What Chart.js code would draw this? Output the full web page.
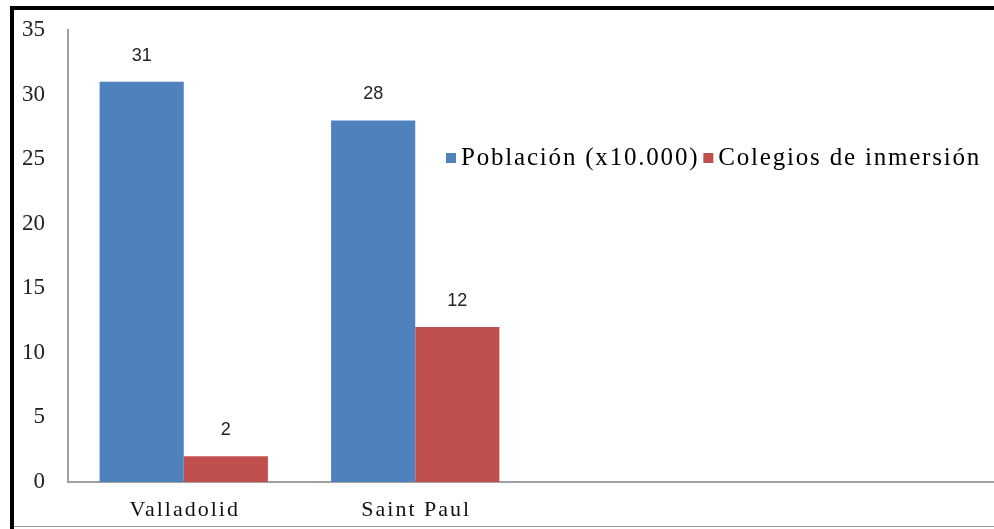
<!DOCTYPE html>
<html>
<head>
<meta charset="utf-8">
<script src="https://cdn.jsdelivr.net/npm/chart.js@4.4.0/dist/chart.umd.min.js"></script>
<style>
  html, body { margin: 0; padding: 0; background: #fff; }
  #wrap { position: relative; width: 994px; height: 529px; overflow: hidden; }
  #frameTop { position: absolute; left: 10px; top: 6px; width: 984px; height: 4px; background: #000; }
  #frameLeft { position: absolute; left: 10px; top: 6px; width: 4px; height: 523px; background: #000; }
  #frameBottom { position: absolute; left: 14px; top: 526px; width: 980px; height: 1px; background: #999; }
  canvas { position: absolute; left: 0; top: 0; }
</style>
</head>
<body>
<div id="wrap">
  <canvas id="chart" width="994" height="529"></canvas>
  <div id="frameTop"></div>
  <div id="frameLeft"></div>
  <div id="frameBottom"></div>
</div>
<script>
// --- data ---
var categories = ['Valladolid', 'Saint Paul', '', ''];
var poblacion = [31, 28, null, null];
var colegios = [2, 12, null, null];
var seriesNames = ['Población (x10.000)', 'Colegios de inmersión'];
var seriesColors = ['#4f81bd', '#c0504d'];
var yTicks = [0, 5, 10, 15, 20, 25, 30, 35];

var SERIF = '"Liberation Serif", "Times New Roman", serif';

// value labels above bars
var valueLabels = {
  id: 'valueLabels',
  afterDatasetsDraw: function(chart) {
    var ctx = chart.ctx;
    ctx.save();
    ctx.font = '18px "Liberation Sans", Arial, sans-serif';
    ctx.fillStyle = '#222';
    ctx.textAlign = 'center';
    ctx.textBaseline = 'middle';
    chart.data.datasets.forEach(function(ds, di) {
      chart.getDatasetMeta(di).data.forEach(function(bar, i) {
        if (ds.data[i] == null) return;
        ctx.fillText(String(ds.data[i]), bar.x, bar.y - 26);
      });
    });
    ctx.restore();
  }
};

// category labels, spaced out like the original (Chart.js ticks can't letter-space)
var catLabels = {
  id: 'catLabels',
  afterDraw: function(chart) {
    var ctx = chart.ctx, xs = chart.scales.x;
    ctx.save();
    ctx.font = '22px ' + SERIF;
    ctx.letterSpacing = '2px';
    ctx.fillStyle = '#111';
    ctx.textAlign = 'center';
    ctx.textBaseline = 'middle';
    categories.forEach(function(c, i) {
      if (!c) return;
      ctx.fillText(c, xs.getPixelForValue(i) + 1, xs.top + 28);
    });
    ctx.restore();
  }
};

// legend drawn inside plot area, like the original
var innerLegend = {
  id: 'innerLegend',
  afterDraw: function(chart) {
    var ctx = chart.ctx;
    ctx.save();
    ctx.font = '25px ' + SERIF;
    ctx.letterSpacing = '1.8px';
    ctx.textBaseline = 'middle';
    var x = 446, y = 158;
    seriesNames.forEach(function(name, i) {
      ctx.fillStyle = seriesColors[i];
      ctx.fillRect(x, y - 5, 10, 10);
      x += 15;
      ctx.fillStyle = '#000';
      ctx.fillText(name, x, y);
      x += ctx.measureText(name).width + 4;
    });
    ctx.restore();
  }
};

new Chart(document.getElementById('chart'), {
  type: 'bar',
  data: {
    labels: categories,
    datasets: [
      { label: seriesNames[0], data: poblacion, backgroundColor: seriesColors[0], borderWidth: 0 },
      { label: seriesNames[1], data: colegios, backgroundColor: seriesColors[1], borderWidth: 0 }
    ]
  },
  options: {
    responsive: false,
    animation: false,
    devicePixelRatio: 1,
    layout: { padding: { left: 0, top: 30, right: 0, bottom: 0 } },
    datasets: { bar: { categoryPercentage: 0.727, barPercentage: 1.0 } },
    plugins: {
      legend: { display: false },
      tooltip: { enabled: false }
    },
    scales: {
      x: {
        grid: { display: false },
        border: { display: true, color: '#a0a0a0', width: 2 },
        ticks: { display: false },
        afterFit: function(s) { s.height = 47; }
      },
      y: {
        min: 0,
        max: 35,
        afterBuildTicks: function(s) { s.ticks = yTicks.map(function(v) { return { value: v }; }); },
        grid: { display: false },
        border: { display: true, color: '#a0a0a0', width: 2 },
        ticks: {
          color: '#222',
          padding: 15,
          font: { family: SERIF, size: 23 }
        },
        afterFit: function(s) { s.width = 68; }
      }
    }
  },
  plugins: [valueLabels, catLabels, innerLegend]
});
</script>
</body>
</html>
